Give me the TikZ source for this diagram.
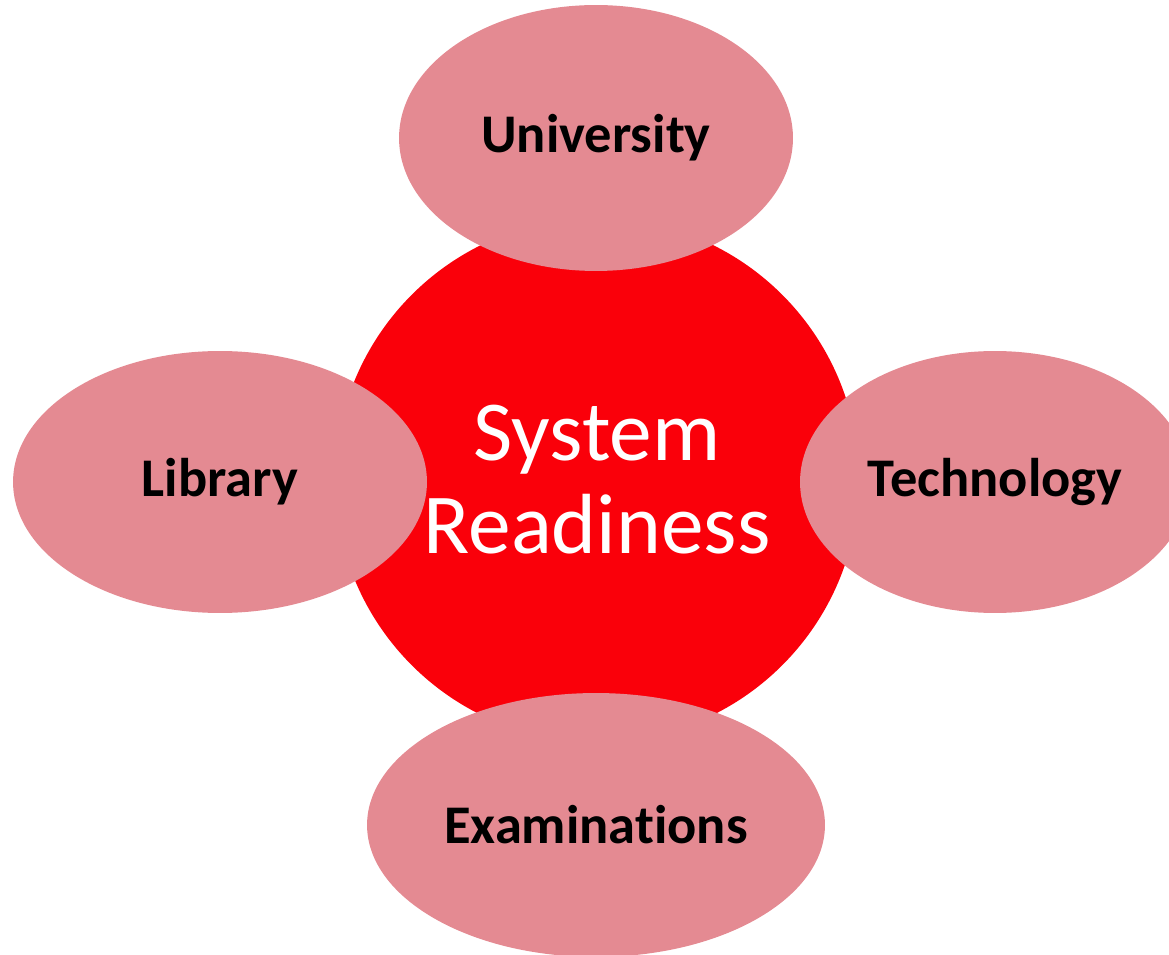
\documentclass[tikz,border=0pt]{standalone}
\usepackage{fontspec}
\setmainfont{Carlito}[Ligatures=NoCommon]
\usepackage{xcolor}
\usetikzlibrary{shapes.geometric,positioning}

\definecolor{coreRed}{RGB}{250,0,10}
\definecolor{petalPink}{RGB}{228,138,146}

\begin{document}
\begin{tikzpicture}[
    x=0.02cm, y=-0.02cm,
    core/.style={circle, fill=coreRed, draw=none, minimum size=10.48cm, inner sep=0pt,
        text=white, align=center, font=\fontsize{48.6}{53}\selectfont},
    petal/.style={ellipse, fill=petalPink, draw=none, inner sep=0pt,
        text=black, font=\fontsize{31}{36}\selectfont\bfseries}
]
    \useasboundingbox (0,0) rectangle (1169,955);

    \node[core] (readiness) at (597,480) {System\\Readiness};

    \node[petal, minimum width=7.88cm, minimum height=5.32cm] (university) at (596,138) {University};
    \node[petal, minimum width=8.28cm, minimum height=5.24cm] (library) at (220,482) {Library};
    \node[petal, minimum width=7.80cm, minimum height=5.24cm] (technology) at (995,482) {Technology};
    \node[petal, minimum width=9.16cm, minimum height=5.28cm] (exams) at (596,825) {Examinations};
\end{tikzpicture}
\end{document}
